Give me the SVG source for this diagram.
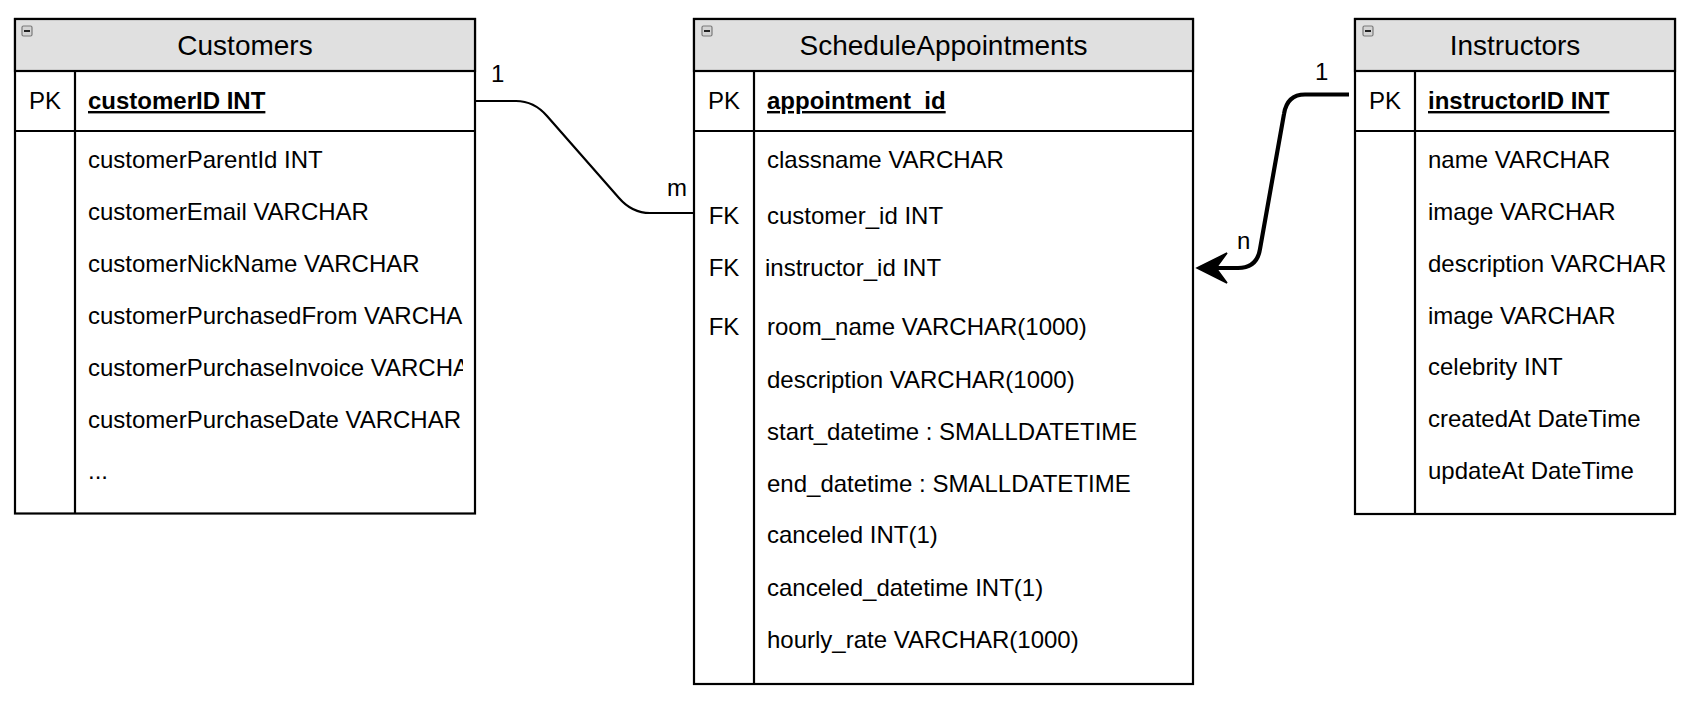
<svg xmlns="http://www.w3.org/2000/svg" width="1692" height="720" viewBox="0 0 1692 720">
<style>
text{font-family:"Liberation Sans",Arial,Helvetica,sans-serif;fill:#000}
.title{font-size:28px;text-anchor:middle}
.f{font-size:24px}
.pk{font-size:24px;font-weight:bold;text-decoration:underline}
.key{font-size:24px;text-anchor:middle}
.lbl{font-size:24px}
.box{fill:#fff;stroke:#000;stroke-width:2.2}
.hdr{fill:#e0e0e0;stroke:#000;stroke-width:2.2}
.ln{stroke:#000;stroke-width:2.2;fill:none}
.ico{fill:#d4d4d4;stroke:#7a7a7a;stroke-width:1.2}
.icm{stroke:#222;stroke-width:2}
</style>
<defs>
<clipPath id="cc"><rect x="76" y="131" width="387" height="382"/></clipPath>
<clipPath id="ci"><rect x="1416" y="131" width="257" height="382"/></clipPath>
</defs>

<g id="customers">
<rect class="box" x="15" y="19" width="460" height="494.5"/>
<rect class="hdr" x="15" y="19" width="460" height="52"/>
<rect class="ico" x="22" y="26" width="10" height="10" rx="1.5"/>
<line class="icm" x1="24" y1="31" x2="30" y2="31"/>
<text class="title" x="245" y="55">Customers</text>
<line class="ln" x1="15" y1="131" x2="475" y2="131"/>
<line class="ln" x1="75" y1="71" x2="75" y2="513.5"/>
<text class="key" x="45" y="109">PK</text>
<text class="pk" x="88" y="109">customerID INT</text>
<g clip-path="url(#cc)">
<text class="f" x="88" y="167.5">customerParentId INT</text>
<text class="f" x="88" y="219.5">customerEmail VARCHAR</text>
<text class="f" x="88" y="271.5">customerNickName VARCHAR</text>
<text class="f" x="88" y="323.5">customerPurchasedFrom VARCHAR</text>
<text class="f" x="88" y="375.5">customerPurchaseInvoice VARCHAR</text>
<text class="f" x="88" y="427.5">customerPurchaseDate VARCHAR</text>
<text class="f" x="88" y="479">...</text>
</g>
</g>

<g id="scheduleAppointments">
<rect class="box" x="694" y="19" width="499" height="665"/>
<rect class="hdr" x="694" y="19" width="499" height="52"/>
<rect class="ico" x="702" y="26" width="10" height="10" rx="1.5"/>
<line class="icm" x1="704" y1="31" x2="710" y2="31"/>
<text class="title" x="943.5" y="55">ScheduleAppointments</text>
<line class="ln" x1="694" y1="131" x2="1193" y2="131"/>
<line class="ln" x1="754" y1="71" x2="754" y2="684"/>
<text class="key" x="724" y="109">PK</text>
<text class="pk" x="767" y="109">appointment_id</text>
<text class="f" x="767" y="168">classname VARCHAR</text>
<text class="key" x="724" y="224">FK</text>
<text class="f" x="767" y="224">customer_id INT</text>
<text class="key" x="724" y="276">FK</text>
<text class="f" x="765" y="276">instructor_id INT</text>
<text class="key" x="724" y="335">FK</text>
<text class="f" x="767" y="335">room_name VARCHAR(1000)</text>
<text class="f" x="767" y="388">description VARCHAR(1000)</text>
<text class="f" x="767" y="440">start_datetime : SMALLDATETIME</text>
<text class="f" x="767" y="492">end_datetime : SMALLDATETIME</text>
<text class="f" x="767" y="543">canceled INT(1)</text>
<text class="f" x="767" y="595.5">canceled_datetime INT(1)</text>
<text class="f" x="767" y="647.5">hourly_rate VARCHAR(1000)</text>
</g>

<g id="instructors">
<rect class="box" x="1355" y="19" width="320" height="495"/>
<rect class="hdr" x="1355" y="19" width="320" height="52"/>
<rect class="ico" x="1363" y="26" width="10" height="10" rx="1.5"/>
<line class="icm" x1="1365" y1="31" x2="1371" y2="31"/>
<text class="title" x="1515" y="55">Instructors</text>
<line class="ln" x1="1355" y1="131" x2="1675" y2="131"/>
<line class="ln" x1="1415" y1="71" x2="1415" y2="514"/>
<text class="key" x="1385" y="109">PK</text>
<text class="pk" x="1428" y="109">instructorID INT</text>
<g clip-path="url(#ci)">
<text class="f" x="1428" y="168">name VARCHAR</text>
<text class="f" x="1428" y="220">image VARCHAR</text>
<text class="f" x="1428" y="272">description VARCHAR</text>
<text class="f" x="1428" y="323.5">image VARCHAR</text>
<text class="f" x="1428" y="375">celebrity INT</text>
<text class="f" x="1428" y="427">createdAt DateTime</text>
<text class="f" x="1428" y="478.5">updateAt DateTime</text>
</g>
</g>

<g id="connectors">
<path class="ln" d="M475,101 L516,101 Q534,101 547,116 L619,198 Q632,213 650,213 L694,213"/>
<text class="lbl" x="491" y="82">1</text>
<text class="lbl" x="667" y="196">m</text>
<path d="M1349,94.5 L1305,94.5 Q1287,94.5 1284,114 L1260,249 Q1257,268 1238,268 L1212,268" fill="none" stroke="#000" stroke-width="4.2" stroke-linejoin="round"/>
<path d="M1197,268 L1227,253 L1216,268 L1227,283 Z" fill="#000" stroke="#000" stroke-width="1.5" stroke-linejoin="miter"/>
<text class="lbl" x="1315" y="80">1</text>
<text class="lbl" x="1237" y="249">n</text>
</g>
</svg>
